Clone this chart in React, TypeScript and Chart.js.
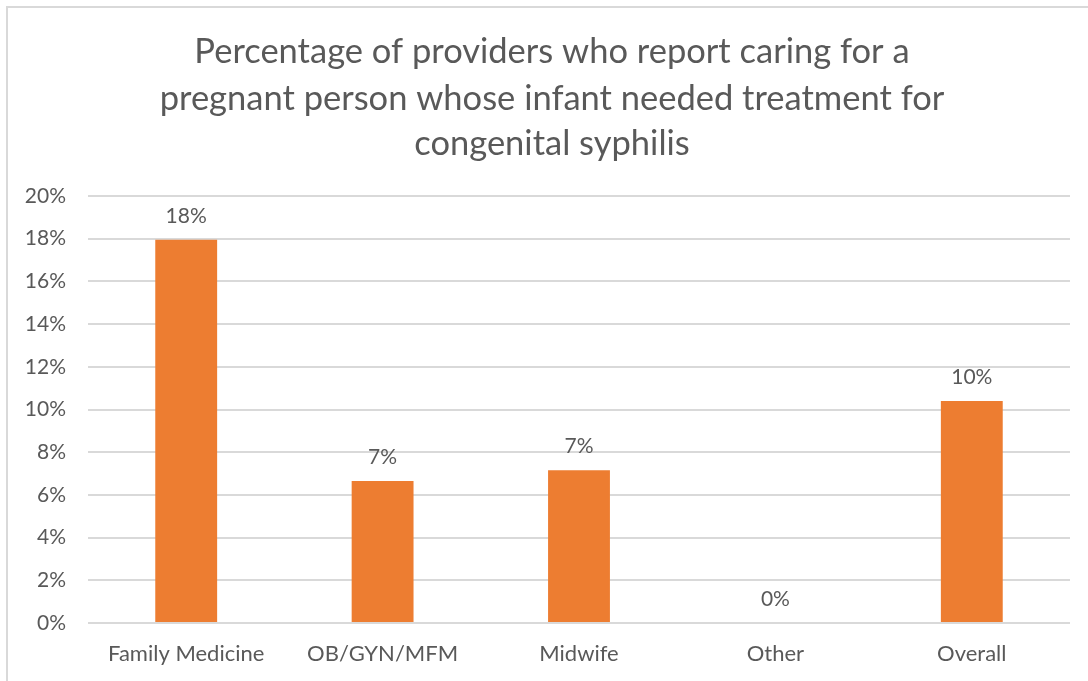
import React, { useEffect, useRef } from "react";
import { Chart, registerables } from "chart.js";

Chart.register(...registerables);

const titleLines = [
  "Percentage of providers who report caring for a",
  "pregnant person whose infant needed treatment for",
  "congenital syphilis",
];
const categories = ["Family Medicine", "OB/GYN/MFM", "Midwife", "Other", "Overall"];
const values = [17.95, 6.65, 7.15, 0, 10.4];
const yTicksMax = 20;
const yTickStep = 2;

const FONT = "Lato, 'Open Sans', sans-serif";
const TEXT = "#595959";

const valueLabels = {
  id: "valueLabels",
  afterDatasetsDraw(chart: any) {
    const ctx = chart.ctx;
    const meta = chart.getDatasetMeta(0);
    ctx.save();
    ctx.font = `21px ${FONT}`;
    ctx.fillStyle = TEXT;
    ctx.textAlign = "center";
    ctx.textBaseline = "alphabetic";
    meta.data.forEach((bar: any, i: number) => {
      const v = values[i];
      ctx.fillText(Math.round(v) + "%", bar.x, bar.y - 17);
    });
    ctx.restore();
  },
};

const titlePlugin = {
  id: "boxTitle",
  afterDraw(chart: any) {
    const ctx = chart.ctx;
    ctx.save();
    ctx.font = `34.5px ${FONT}`;
    ctx.fillStyle = TEXT;
    ctx.textAlign = "center";
    ctx.textBaseline = "middle";
    const ys = [52, 99, 144];
    titleLines.forEach((t, i) => ctx.fillText(t, 552, ys[i]));
    ctx.restore();
  },
};

export default function App() {
  const ref = useRef<HTMLCanvasElement | null>(null);
  useEffect(() => {
    if (!ref.current) return;
    const chart = new Chart(ref.current, {
      type: "bar",
      data: {
        labels: categories,
        datasets: [
          {
            data: values,
            backgroundColor: "#ED7D31",
            borderWidth: 0,
            barPercentage: 0.63,
            categoryPercentage: 0.5,
          },
        ],
      },
      options: {
        responsive: false,
        animation: false,
        devicePixelRatio: 1,
        layout: { padding: { top: 196, left: 0, right: 18, bottom: 0 } },
        plugins: {
          legend: { display: false },
          tooltip: { enabled: false },
          title: { display: false },
        },
        scales: {
          x: {
            grid: { display: false, drawTicks: false },
            border: { display: false },
            ticks: { color: TEXT, font: { family: FONT, size: 22 }, padding: 18 },
            afterFit: (s: any) => {
              s.height = 58;
            },
          },
          y: {
            min: 0,
            max: yTicksMax,
            grid: { color: "#d9d9d9", lineWidth: 2, drawTicks: false },
            border: { display: false },
            ticks: {
              stepSize: yTickStep,
              color: TEXT,
              font: { family: FONT, size: 21 },
              padding: 22,
              callback: (v: any) => v + "%",
            },
            afterFit: (s: any) => {
              s.width = 88;
            },
          },
        },
      },
      plugins: [valueLabels, titlePlugin],
    });
    return () => chart.destroy();
  }, []);

  return (
    <div style={{ position: "fixed", left: 0, top: 0, width: 1088, height: 681, background: "#fff", overflow: "hidden" }}>
      <div
        style={{
          position: "absolute",
          left: 6,
          top: 6,
          width: 1200,
          height: 800,
          border: "2px solid #d9d9d9",
          boxSizing: "border-box",
        }}
      />
      <canvas ref={ref} width={1088} height={681} style={{ position: "absolute", left: 0, top: 0 }} />
    </div>
  );
}
